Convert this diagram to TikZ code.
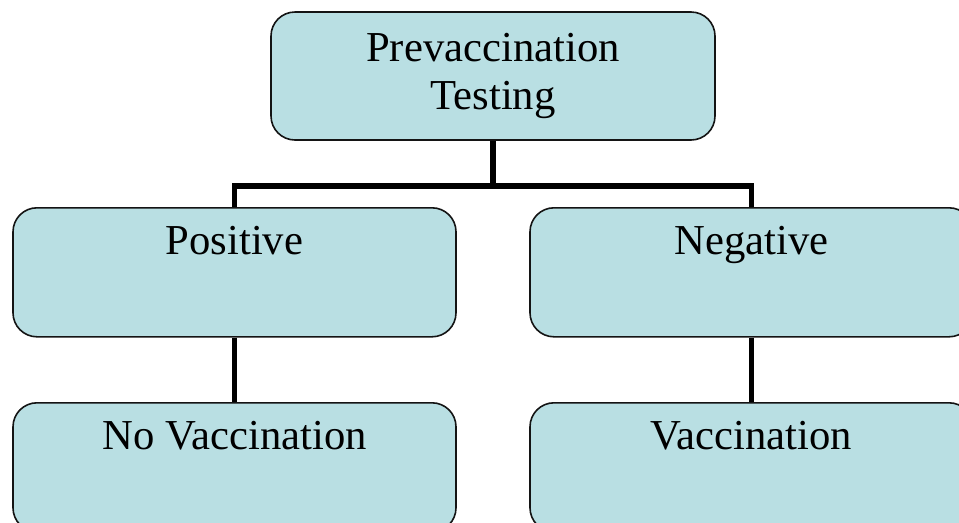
\documentclass[tikz,border=0pt]{standalone}
\usepackage{fontspec}
\setmainfont{Liberation Serif}
\usepackage{tikz}
\usetikzlibrary{positioning}
\definecolor{boxfill}{RGB}{185,223,227}
\definecolor{boxbdr} {RGB}{ 20, 20, 20}
\tikzset{
  boxnode/.style={rectangle, rounded corners=18pt, draw=boxbdr, line width=1.2pt, fill=boxfill,
    font=\fontsize{32}{36}\selectfont, align=center, inner sep=0pt, minimum width=443*0.75pt},
  topbox/.style={boxnode, text height=35.25pt, text depth=61.5pt},
  conn/.style={line width=3.8pt, draw=black, line join=miter},
}
\begin{document}
\begin{tikzpicture}[x=0.75pt, y=-0.75pt]
\useasboundingbox (0,0) rectangle (959,522);
\clip (0,0) rectangle (959,522);
\node[boxnode, minimum width=444*0.75pt, minimum height=128*0.75pt] (test) at (493,76)
  {Prevaccination\\Testing};
\node[topbox, anchor=north] (pos) at (234.5,207) {Positive};
\node[topbox, anchor=north] (neg) at (751.5,207) {Negative};
\node[topbox, anchor=north] (novac) at (234.5,402) {No Vaccination};
\node[topbox, anchor=north] (vac) at (751.5,402) {Vaccination};
\coordinate (split) at (493,186);
\draw[conn] (test.south) -- (split) -| (pos.north);
\draw[conn] (split) -| (neg.north);
\draw[conn] (pos.south) -- (novac.north);
\draw[conn] (neg.south) -- (vac.north);
\end{tikzpicture}
\end{document}
